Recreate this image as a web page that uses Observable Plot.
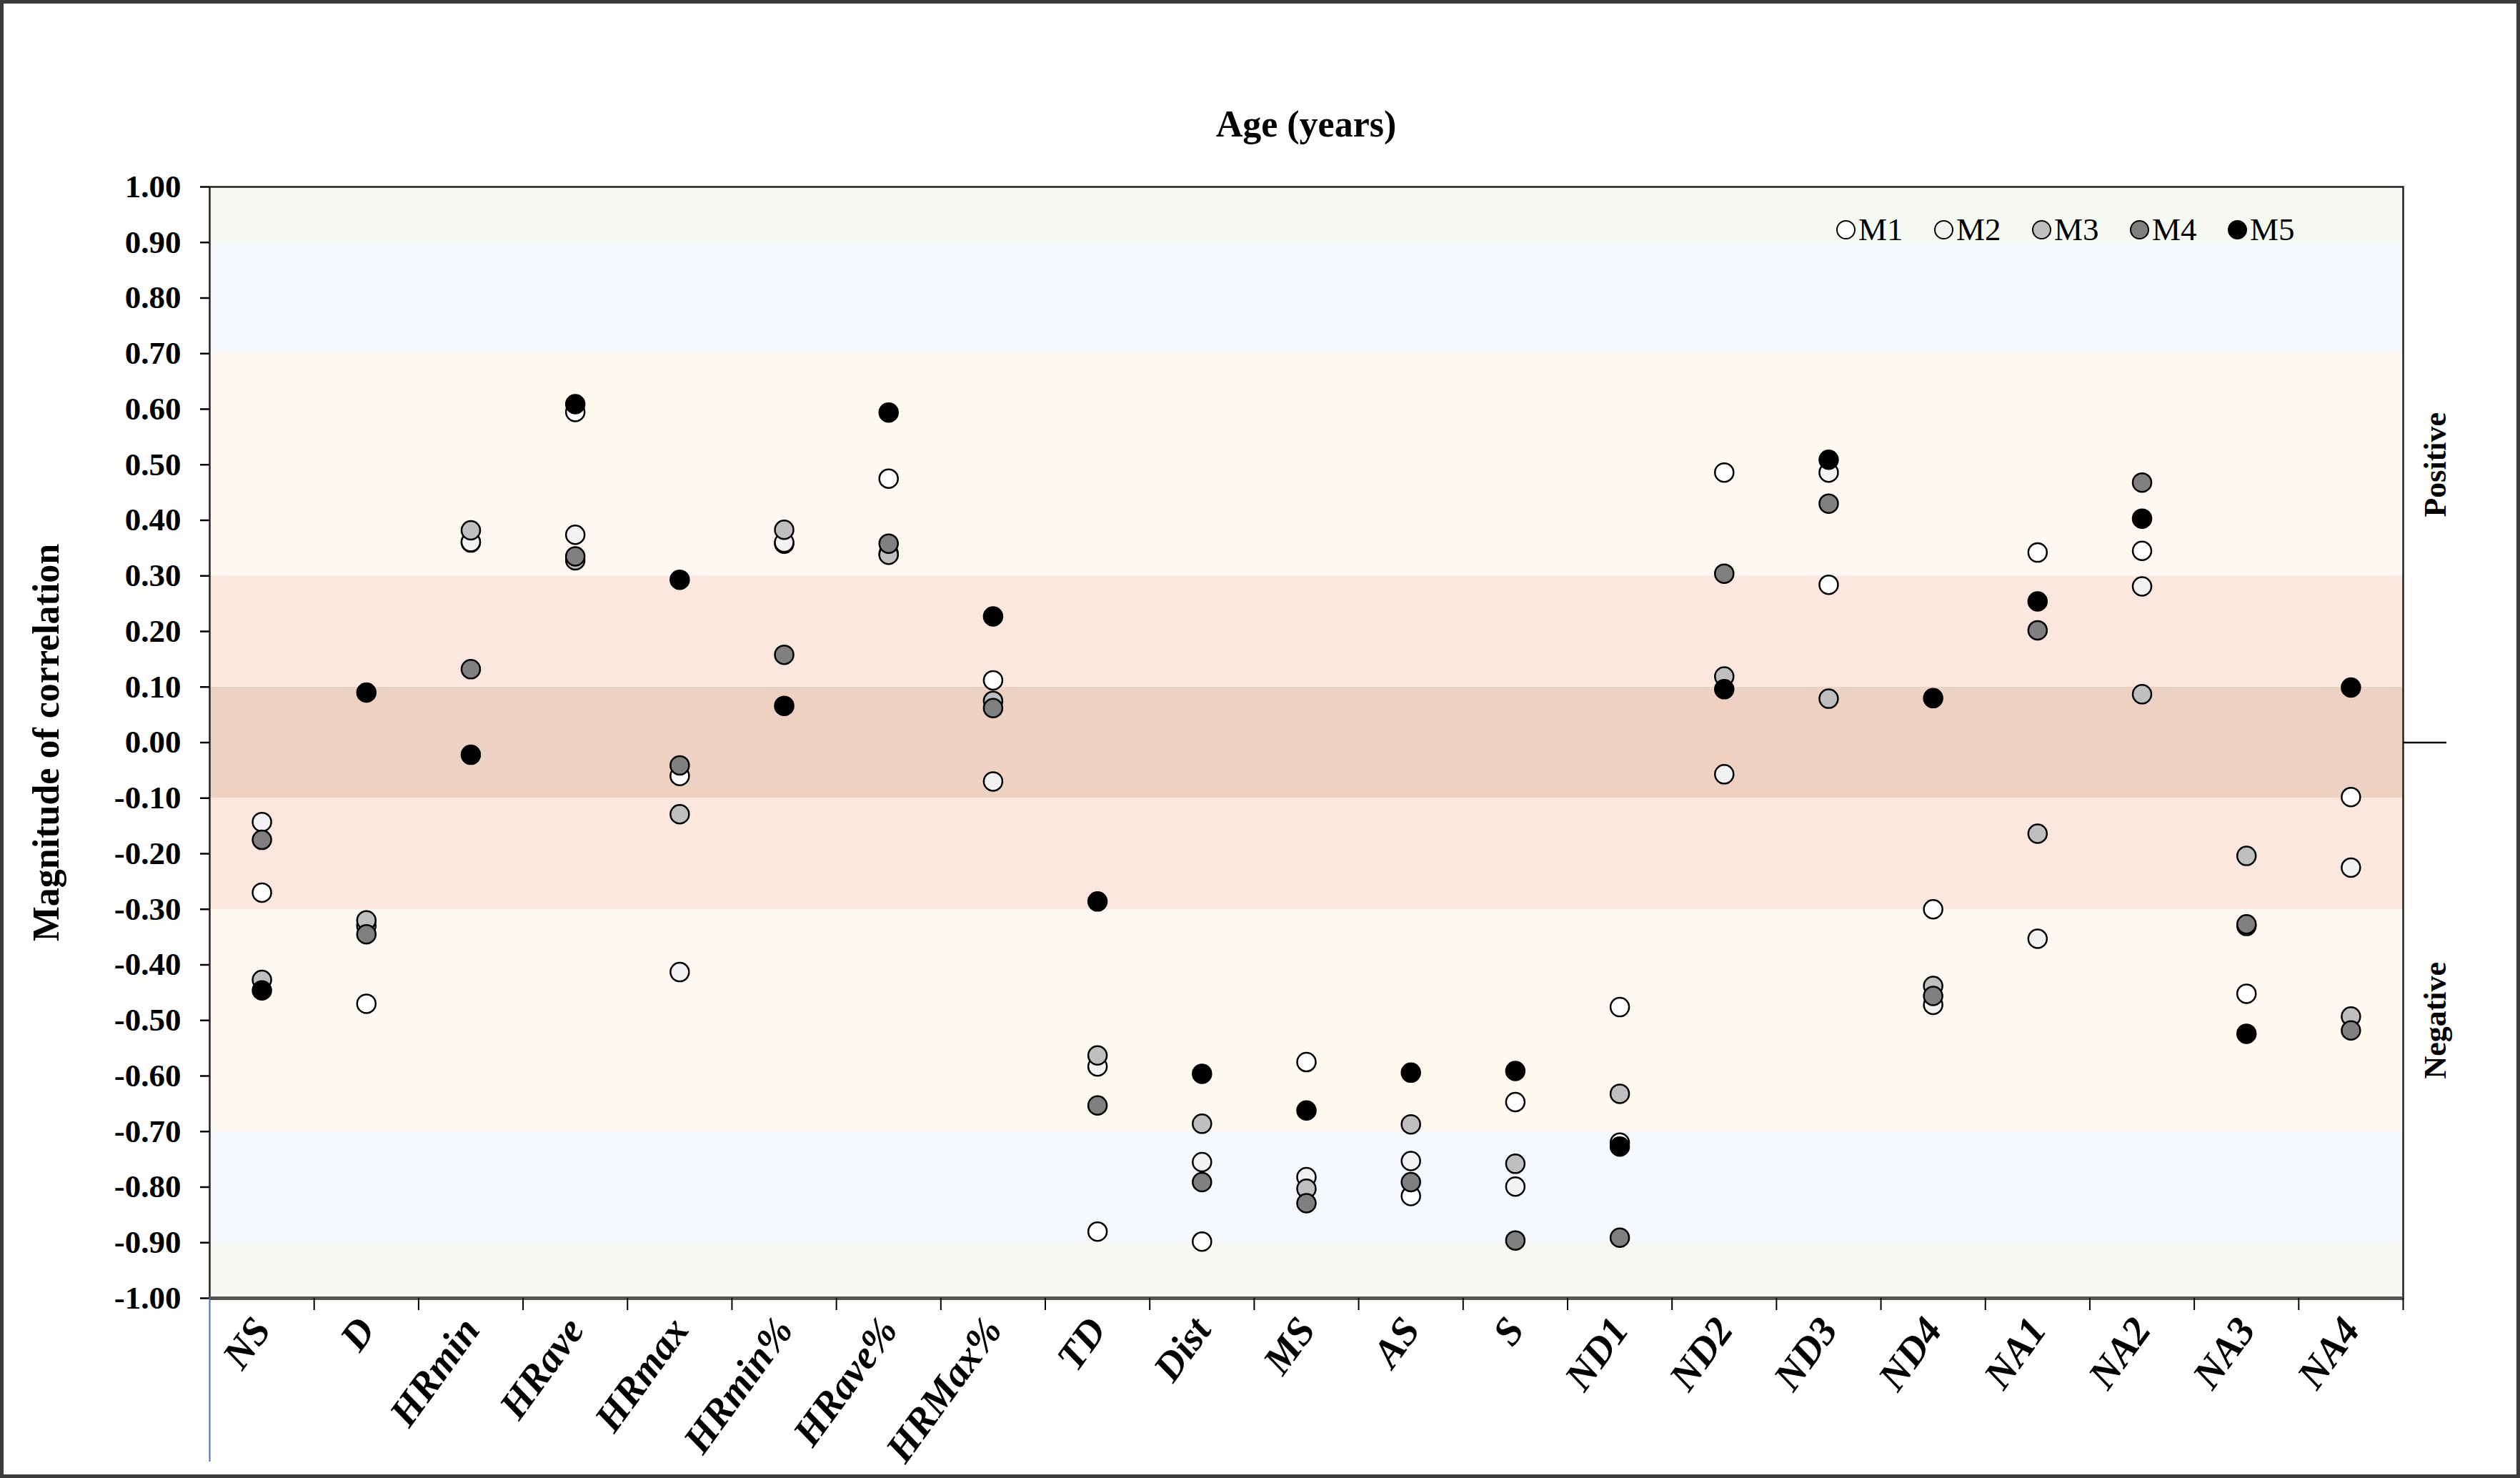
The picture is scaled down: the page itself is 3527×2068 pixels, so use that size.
<!DOCTYPE html>
<html><head><meta charset="utf-8">
<script src="https://cdn.jsdelivr.net/npm/d3@7"></script>
<script src="https://cdn.jsdelivr.net/npm/@observablehq/plot@0.6"></script>
<style>
html,body{margin:0;padding:0;background:#fff;}
#fig{position:relative;width:3527px;height:2068px;box-sizing:border-box;border:5px solid #3c3c3c;background:#fff;font-family:'Liberation Serif','Times New Roman',serif;overflow:hidden;}
#title{position:absolute;left:288px;width:3070px;top:143px;text-align:center;font-weight:bold;font-size:52px;line-height:52px;}
#legend{position:absolute;left:2565px;top:294px;display:flex;z-index:2;}
.item{display:flex;align-items:center;width:137px;font-size:45px;line-height:45px;}
.sw{width:23px;height:23px;border:2.5px solid #000;border-radius:50%;margin-right:4px;flex:none;}
#chart{position:absolute;left:0;top:200px;z-index:1;}
</style></head><body>
<div id="fig"><div id="title"></div><div id="legend"></div><div id="chart"></div></div>
<script>
const titleText = "Age (years)";
const yLabel = "Magnitude of correlation";
const sideLabels = ["Positive", "Negative"];
const categories = ["NS","D","HRmin","HRave","HRmax","HRmin%","HRave%","HRMax%","TD","Dist","MS","AS","S","ND1","ND2","ND3","ND4","NA1","NA2","NA3","NA4"];
const seriesNames = ["M1","M2","M3","M4","M5"];
const seriesColors = ["#ffffff","#f2f2f2","#bfbfbf","#808080","#000000"];
const M1 = [-0.27,-0.47,0.36,0.595,-0.06,0.358,0.475,0.112,-0.88,-0.898,-0.575,-0.816,-0.647,-0.476,0.486,0.284,-0.30,0.342,0.345,-0.452,-0.098];
const M2 = [-0.143,-0.33,0.361,0.374,-0.413,0.36,0.34,-0.07,-0.583,-0.755,-0.782,-0.753,-0.799,-0.72,-0.057,0.486,-0.472,-0.353,0.281,-0.33,-0.225];
const M3 = [-0.427,-0.32,0.382,0.328,-0.129,0.383,0.338,0.075,-0.563,-0.686,-0.803,-0.687,-0.758,-0.632,0.119,0.079,-0.438,-0.164,0.087,-0.204,-0.493];
const M4 = [-0.175,-0.345,0.132,0.335,-0.041,0.158,0.358,0.062,-0.653,-0.791,-0.829,-0.791,-0.896,-0.891,0.304,0.43,-0.456,0.202,0.468,-0.327,-0.518];
const M5 = [-0.446,0.09,-0.022,0.609,0.293,0.066,0.594,0.227,-0.286,-0.596,-0.662,-0.594,-0.591,-0.727,0.096,0.509,0.08,0.254,0.403,-0.524,0.099];
const yTicks = [1.0,0.9,0.8,0.7,0.6,0.5,0.4,0.3,0.2,0.1,0.0,-0.1,-0.2,-0.3,-0.4,-0.5,-0.6,-0.7,-0.8,-0.9,-1.0];
const bandEdges = [-1,-0.9,-0.7,-0.5,-0.3,-0.1,0.1,0.3,0.5,0.7,0.9,1];
const bandColors = ["#f5f9f2","#f5f8fd","#fffaf0","#fef8f3","#fbe7dd","#edd2c3","#fbe7dd","#fef8f3","#fffaf0","#f5f8fd","#f5f9f2"];

const seriesValues = [M1,M2,M3,M4,M5];
const rows = seriesNames.flatMap((s, k) => seriesValues[k].map((v, i) => ({series: s, i, v})));
const bands = bandColors.map((c, k) => ({lo: bandEdges[k], hi: bandEdges[k+1], color: c}));

document.getElementById("title").textContent = titleText;
const leg = document.getElementById("legend");
seriesNames.forEach((s, k) => {
  const it = document.createElement("div"); it.className = "item";
  const sw = document.createElement("span"); sw.className = "sw"; sw.style.background = seriesColors[k];
  const t = document.createElement("span"); t.textContent = s;
  it.appendChild(sw); it.appendChild(t); leg.appendChild(it);
});

const font = "'Liberation Serif','Times New Roman',serif";
const fmt = v => (Math.abs(v) < 1e-9 ? 0 : v).toFixed(2);

const chart = Plot.plot({
  width: 3517, height: 1858,
  marginLeft: 288, marginRight: 159, marginTop: 56, marginBottom: 247,
  style: {fontFamily: font, background: "transparent", color: "#000", overflow: "visible"},
  x: {type: "linear", domain: [0, categories.length]},
  y: {domain: [-1, 1]},
  color: {domain: seriesNames, range: seriesColors},
  marks: [
    ...bands.map(b => Plot.rect([b], {y1: "lo", y2: "hi", fill: b.color})),
    Plot.frame({stroke: "#222", strokeWidth: 2.5}),
    Plot.ruleY([-1], {stroke: "#555", strokeWidth: 5}),
    Plot.axisY({ticks: yTicks, tickFormat: fmt, tickSize: 13, tickPadding: 27, fontSize: 45, fontWeight: "bold", label: null, strokeWidth: 2.5}),
    Plot.axisY({anchor: "right", ticks: [0], tickSize: 60, tickFormat: () => "", label: null, strokeWidth: 2.5}),
    Plot.axisX({ticks: d3.range(1, categories.length + 1), tickSize: 17, tickFormat: () => "", label: null, strokeWidth: 2}),
    Plot.axisX({ticks: [0], tickSize: 229, tickFormat: () => "", label: null, stroke: "#4a6fbf", strokeWidth: 2}),
    Plot.axisX({ticks: categories.map((_, i) => i + 0.5), tickFormat: d => categories[Math.floor(d)], tickSize: 0, tickPadding: 34, tickRotate: -54, textAnchor: "end", fontSize: 56, fontWeight: "bold", fontStyle: "italic", label: null}),
    Plot.text([yLabel], {frameAnchor: "left", dx: -228, rotate: -90, textAnchor: "middle", fontSize: 52, fontWeight: "bold", fill: "#000"}),
    Plot.text(sideLabels, {y: (d, i) => (i === 0 ? 0.5 : -0.5), frameAnchor: "right", dx: 45, rotate: -90, textAnchor: "middle", fontSize: 44, fontWeight: "bold", fill: "#000"}),
    Plot.dot(rows, {x: d => d.i + 0.5, y: "v", r: 13, fill: "series", stroke: "#000", strokeWidth: 2.5})
  ]
});
document.getElementById("chart").appendChild(chart);
d3.select(chart).selectAll('g[aria-label="x-axis tick label"] text').style("font-style", "italic");
</script>
</body></html>
